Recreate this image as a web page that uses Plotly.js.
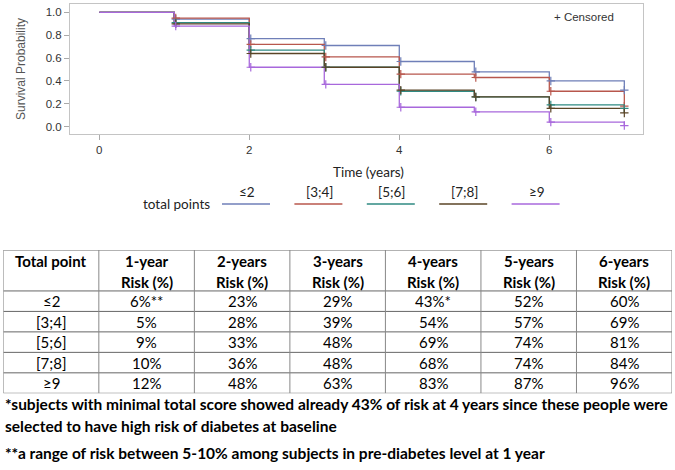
<!DOCTYPE html>
<html><head><meta charset="utf-8">
<script src="https://cdn.plot.ly/plotly-3.0.1.min.js"></script>
<style>html,body{margin:0;padding:0;background:#fff}#chart{width:675px;height:470px}</style>
</head><body><div id="chart"></div>
<script>
// ---------- data ----------
const groups = ['≤2', '[3;4]', '[5;6]', '[7;8]', '≥9'];
const times = [0, 1, 2, 3, 4, 5, 6, 7];
const survLe2 = [1.00, 0.94, 0.77, 0.71, 0.57, 0.48, 0.40, 0.32];
const surv3to4 = [1.00, 0.95, 0.72, 0.61, 0.46, 0.43, 0.31, 0.18];
const surv5to6 = [1.00, 0.91, 0.67, 0.52, 0.31, 0.26, 0.19, 0.16];
const surv7to8 = [1.00, 0.90, 0.64, 0.52, 0.32, 0.26, 0.16, 0.12];
const survGe9 = [1.00, 0.88, 0.52, 0.37, 0.17, 0.13, 0.04, 0.01];
const censorTimes = [1.02, 2.02, 3.02, 4.02, 5.02, 6.02, 7.0];
const xTickVals = [0, 2, 4, 6];
const yTickVals = [0, 0.2, 0.4, 0.6, 0.8, 1.0];

const headerLine1 = ['Total point', '1-year', '2-years', '3-years', '4-years', '5-years', '6-years'];
const headerLine2 = ['', 'Risk (%)', 'Risk (%)', 'Risk (%)', 'Risk (%)', 'Risk (%)', 'Risk (%)'];
const risk1y = ['6%**', '5%', '9%', '10%', '12%'];
const risk2y = ['23%', '28%', '33%', '36%', '48%'];
const risk3y = ['29%', '39%', '48%', '48%', '63%'];
const risk4y = ['43%*', '54%', '69%', '68%', '83%'];
const risk5y = ['52%', '57%', '74%', '74%', '87%'];
const risk6y = ['60%', '69%', '81%', '84%', '96%'];
const footnotes = [
  '*subjects with minimal total score showed already 43% of risk at 4 years since these people were',
  'selected to have high risk of diabetes at baseline',
  '**a range of risk between 5-10% among subjects in pre-diabetes level at 1 year'
];

// ---------- styling ----------
const seriesColors = ['#6f7fb8', '#b8574d', '#2f8a82', '#5a4426', '#a868dc'];
const calibri = 'Lato, "Liberation Sans", sans-serif';
const arial = '"Liberation Sans", Arial, sans-serif';
const W = 675, H = 470;
const px = x => x / W, py = y => 1 - y / H;

const survSeries = [survLe2, surv3to4, surv5to6, surv7to8, survGe9];
function survAt(s, t) {
  let v = s[0];
  for (let i = 0; i < times.length; i++) if (times[i] <= t + 1e-9) v = s[i];
  return v;
}

const traces = [];
survSeries.forEach((s, k) => {
  traces.push({
    type: 'scatter', mode: 'lines', x: times, y: s, name: groups[k],
    line: {shape: 'hv', color: seriesColors[k], width: 1.3},
    xaxis: 'x', yaxis: 'y', showlegend: false, hoverinfo: 'skip'
  });
});
survSeries.forEach((s, k) => {
  traces.push({
    type: 'scatter', mode: 'markers', x: censorTimes, y: censorTimes.map(t => survAt(s, t)),
    marker: {symbol: 'cross-thin', size: 6, line: {color: seriesColors[k], width: 1.2}, color: seriesColors[k]},
    xaxis: 'x', yaxis: 'y', showlegend: false, hoverinfo: 'skip'
  });
});

const shapes = [];
const annotations = [];

// y-axis title
annotations.push({xref: 'paper', yref: 'paper', x: px(21), y: py(69), text: 'Survival Probability',
  textangle: -90, showarrow: false, font: {family: arial, size: 12, color: '#555'}, xanchor: 'center', yanchor: 'middle'});
// x-axis title
annotations.push({xref: 'paper', yref: 'paper', x: px(368), y: py(172), text: 'Time (years)',
  showarrow: false, font: {family: calibri, size: 13.5, color: '#222'}, xanchor: 'center', yanchor: 'middle'});
// censored note
annotations.push({xref: 'paper', yref: 'paper', x: px(552), y: py(17), text: '+ Censored',
  showarrow: false, font: {family: arial, size: 11.5, color: '#333'}, xanchor: 'left', yanchor: 'middle'});

// legend
annotations.push({xref: 'paper', yref: 'paper', x: px(212), y: py(204), text: 'total points',
  showarrow: false, font: {family: calibri, size: 13.5, color: '#222'}, xanchor: 'right', yanchor: 'middle'});
groups.forEach((g, k) => {
  const x0 = 222 + k * 72.4;
  shapes.push({type: 'line', xref: 'paper', yref: 'paper', x0: px(x0), x1: px(x0 + 48), y0: py(204), y1: py(204),
    line: {color: seriesColors[k], width: 1.5}});
  annotations.push({xref: 'paper', yref: 'paper', x: px(x0 + 25), y: py(192), text: g,
    showarrow: false, font: {family: calibri, size: 13.5, color: '#222'}, xanchor: 'center', yanchor: 'middle'});
});

// table on its own axes: columns 0..7, rows 0..7 (header = 2 units)
const nCols = headerLine1.length;
const tableCols = [groups, risk1y, risk2y, risk3y, risk4y, risk5y, risk6y];
const rowLines = [0, 1, 2, 3, 4, 5, 7];
rowLines.forEach(r => shapes.push({type: 'line', xref: 'x2', yref: 'y2', x0: 0, x1: nCols, y0: r, y1: r,
  line: {color: '#666', width: 1}}));
for (let c = 0; c <= nCols; c++) shapes.push({type: 'line', xref: 'x2', yref: 'y2', x0: c, x1: c, y0: 0, y1: 7,
  line: {color: '#888', width: 1}});
const tFont = {family: calibri, size: 15, color: '#000'};
headerLine1.forEach((h, c) => {
  annotations.push({xref: 'x2', yref: 'y2', x: c + 0.5, y: 6.46, text: '<b>' + h + '</b>', showarrow: false,
    font: tFont, xanchor: 'center', yanchor: 'middle'});
  if (headerLine2[c]) annotations.push({xref: 'x2', yref: 'y2', x: c + 0.5, y: 5.45, text: '<b>' + headerLine2[c] + '</b>', showarrow: false,
    font: tFont, xanchor: 'center', yanchor: 'middle'});
});
tableCols.forEach((col, c) => {
  col.forEach((v, r) => {
    annotations.push({xref: 'x2', yref: 'y2', x: c + 0.5, y: 4.5 - r, text: v, showarrow: false,
      font: tFont, xanchor: 'center', yanchor: 'middle'});
  });
});

// footnotes
[404, 426, 453].forEach((y, i) => {
  annotations.push({xref: 'paper', yref: 'paper', x: px(3), y: py(y), text: '<b>' + footnotes[i] + '</b>',
    showarrow: false, font: {family: calibri, size: 15.5, color: '#000'}, xanchor: 'left', yanchor: 'middle'});
});

const layout = {
  width: W, height: H, margin: {l: 0, r: 0, t: 0, b: 0},
  paper_bgcolor: '#fff', plot_bgcolor: '#fff', showlegend: false,
  xaxis: {domain: [px(70), px(642.7)], range: [-0.39, 7.245], tickvals: xTickVals, ticks: 'outside', ticklen: 5,
    tickcolor: '#aaa', showline: true, mirror: true, linecolor: '#c4c4c4', linewidth: 1, showgrid: false, zeroline: false,
    tickfont: {family: arial, size: 11.5, color: '#333'}, fixedrange: true},
  yaxis: {domain: [py(134), py(4)], range: [-0.064, 1.073], tickvals: yTickVals, tickformat: '.1f', ticks: 'outside', ticklen: 5,
    tickcolor: '#aaa', showline: true, mirror: true, linecolor: '#c4c4c4', linewidth: 1, showgrid: false, zeroline: false,
    tickfont: {family: arial, size: 11.5, color: '#333'}, fixedrange: true},
  xaxis2: {domain: [px(3.3), px(672)], range: [0, 7], visible: false, fixedrange: true, anchor: 'y2'},
  yaxis2: {domain: [py(393.3), py(250)], range: [0, 7], visible: false, fixedrange: true, anchor: 'x2'},
  shapes: shapes, annotations: annotations
};
Plotly.newPlot('chart', traces, layout, {staticPlot: true, displayModeBar: false});
</script>
</body></html>
